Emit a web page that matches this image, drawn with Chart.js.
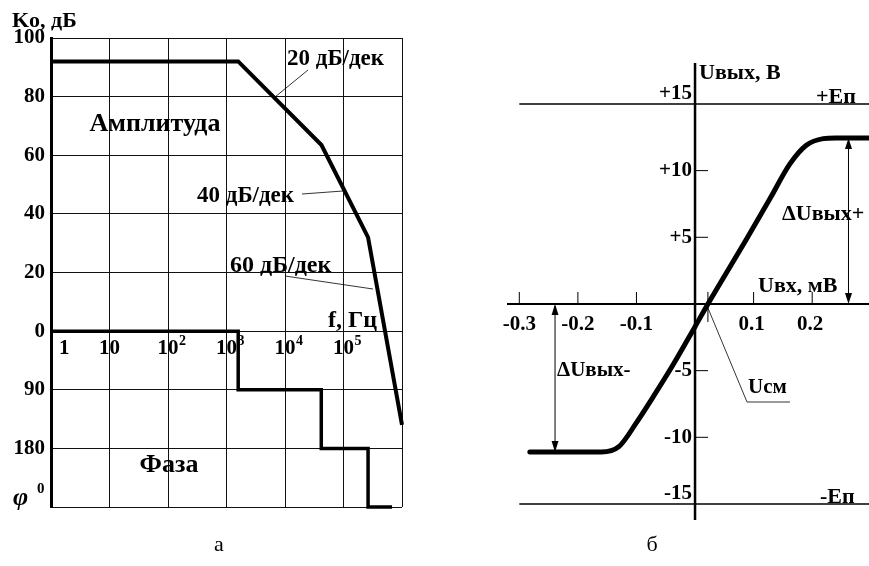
<!DOCTYPE html>
<html lang="ru">
<head>
<meta charset="UTF-8">
<title>Характеристики операционного усилителя</title>
<style>
  body { margin: 0; background: #fff; width: 869px; height: 566px; position: relative; overflow: hidden; }
  #freqWrap { position: absolute; left: 0; top: 0; width: 460px; height: 566px; }
  #transWrap { position: absolute; left: 460px; top: 0; width: 409px; height: 566px; }
</style>
</head>
<body>
<div id="freqWrap"><canvas id="freqChart"></canvas></div>
<div id="transWrap"><canvas id="transChart"></canvas></div>

<script src="https://cdn.jsdelivr.net/npm/chart.js"></script>
<script>
// --- а: амплитудная и фазовая характеристики ---
const decades = [1, 10, 100, 1000, 10000, 100000, 1000000];
const decadeBase = ['1', '10', '10', '10', '10', '10'];
const decadePow = ['', '', '2', '3', '4', '5'];
const gainFreq = [1, 1585, 42000, 263000, 1000000];
const gainDb = [92, 92, 63.5, 32, -32];
const phaseFreq = [1, 1585, 1585, 41700, 41700, 263000, 263000, 676000];
const phaseDeg = [0, 0, 90, 90, 180, 180, 270, 270];
const dbTicks = [100, 80, 60, 40, 20, 0];
const phaseTicks = [90, 180, 270];
const DEG_PER_UNIT = 4.5; // 20 делений оси = 90 градусов

// --- б: передаточная характеристика ---
const inputMv = [-0.282, -0.16, -0.13, -0.1, -0.072, -0.038, 0, 0.022, 0.089, 0.128, 0.162, 0.19, 0.219, 0.24, 0.297];
const outputV = [-11.1, -11.1, -10.7, -8.9, -7.0, -4.6, -1.7, 0, 4.95, 7.9, 10.5, 11.9, 12.4, 12.45, 12.45];
const railV = [15, -15];
const railLabels = ['+Eп', '-Eп'];
const mvTicks = [-0.3, -0.2, -0.1, 0.1, 0.2];
const vTicks = [15, 10, 5, -5, -10, -15];
const offsetMv = 0.022;
const swingArrowMv = [0.262, -0.239];

const SERIF = '"Liberation Serif", "Times New Roman", serif';
const bold = px => 'bold ' + px + 'px ' + SERIF;

function txt(ctx, s, x, y, align, font) {
  ctx.font = font;
  ctx.textAlign = align || 'left';
  ctx.textBaseline = 'middle';
  ctx.fillStyle = '#000';
  ctx.fillText(s, x, y);
}
function seg(ctx, x1, y1, x2, y2, w) {
  ctx.beginPath();
  ctx.lineWidth = w;
  ctx.strokeStyle = '#000';
  ctx.moveTo(x1, y1);
  ctx.lineTo(x2, y2);
  ctx.stroke();
}
function arrowHead(ctx, x, y, dir) {
  ctx.beginPath();
  ctx.fillStyle = '#000';
  ctx.moveTo(x, y);
  ctx.lineTo(x - 3.5, y - dir * 11);
  ctx.lineTo(x + 3.5, y - dir * 11);
  ctx.closePath();
  ctx.fill();
}

const freqLabels = {
  id: 'freqLabels',
  afterDraw(chart) {
    const ctx = chart.ctx;
    const xs = chart.scales.x, ys = chart.scales.y;
    const y0 = ys.getPixelForValue(0);
    ctx.save();
    // подписи частот под нулевой линией
    decadeBase.forEach((b, i) => {
      const gx = xs.getPixelForValue(decades[i]);
      if (i === 0) {
        txt(ctx, b, gx + 8, y0 + 17, 'left', bold(21));
        return;
      }
      txt(ctx, b, gx, y0 + 17, 'center', bold(21));
      if (decadePow[i]) txt(ctx, decadePow[i], gx + 11, y0 + 10, 'left', bold(14));
    });
    txt(ctx, 'Ko, дБ', 12, 21, 'left', bold(22));
    txt(ctx, 'Амплитуда', 155, 124, 'center', bold(26));
    txt(ctx, '20 дБ/дек', 287, 59, 'left', bold(23));
    txt(ctx, '40 дБ/дек', 197, 196, 'left', bold(23));
    txt(ctx, '60 дБ/дек', 230, 266, 'left', bold(24));
    txt(ctx, 'f, Гц', 328, 321, 'left', bold(24));
    txt(ctx, 'Фаза', 169, 465, 'center', bold(26));
    txt(ctx, 'φ', 13, 498, 'left', 'italic bold 26px ' + SERIF);
    txt(ctx, '0', 37, 489, 'left', bold(15));
    txt(ctx, 'а', 219, 545, 'center', '22px ' + SERIF);
    // выноски к наклонам
    seg(ctx, 275, 97, 308, 70, 0.8);
    seg(ctx, 302, 194, 343, 191, 0.8);
    seg(ctx, 285, 276, 373, 289, 0.8);
    ctx.restore();
  }
};

new Chart(document.getElementById('freqChart'), {
  type: 'line',
  data: {
    datasets: [
      {
        data: gainFreq.map((f, i) => ({ x: f, y: gainDb[i] })),
        borderColor: '#000', borderWidth: 4, pointRadius: 0, tension: 0, clip: 6
      },
      {
        data: phaseFreq.map((f, i) => ({ x: f, y: -phaseDeg[i] / DEG_PER_UNIT })),
        borderColor: '#000', borderWidth: 3.5, pointRadius: 0, tension: 0, clip: false
      }
    ]
  },
  options: {
    responsive: true,
    maintainAspectRatio: false,
    animation: false,
    layout: { padding: { left: 0, right: 58, top: 38, bottom: 59 } },
    plugins: { legend: { display: false }, tooltip: { enabled: false } },
    scales: {
      x: {
        type: 'logarithmic', min: 1, max: 1000000,
        afterBuildTicks: s => { s.ticks = decades.map(v => ({ value: v })); },
        ticks: { display: false },
        grid: { color: '#111', lineWidth: 1, drawTicks: false },
        border: { display: false }
      },
      y: {
        min: -60, max: 100,
        afterBuildTicks: s => {
          s.ticks = dbTicks.map(v => ({ value: v }))
            .concat(phaseTicks.map(d => ({ value: -d / DEG_PER_UNIT })));
        },
        afterFit: s => { s.width = 51; },
        ticks: {
          color: '#000', padding: 6,
          font: { family: SERIF, size: 21, weight: 'bold' },
          callback: v => v >= 0 ? String(v) : (v > -60 ? String(-v * DEG_PER_UNIT) : '')
        },
        grid: { color: '#111', lineWidth: 1, drawTicks: false },
        border: { display: true, color: '#000', width: 3 }
      }
    }
  },
  plugins: [freqLabels]
});

const transAxes = {
  id: 'transAxes',
  beforeDatasetsDraw(chart) {
    const ctx = chart.ctx, a = chart.chartArea;
    const xs = chart.scales.x, ys = chart.scales.y;
    const x0 = xs.getPixelForValue(0), y0 = ys.getPixelForValue(0);
    ctx.save();
    seg(ctx, x0, a.top, x0, a.bottom, 2.5);
    seg(ctx, a.left, y0, a.right, y0, 2);
    mvTicks.forEach(v => {
      const px = xs.getPixelForValue(v);
      seg(ctx, px, y0 - 12, px, y0, 1);
    });
    vTicks.filter(v => Math.abs(v) < 15).forEach(v => {
      const py = ys.getPixelForValue(v);
      seg(ctx, x0, py, x0 + 13, py, 1);
    });
    const xo = xs.getPixelForValue(offsetMv);
    seg(ctx, xo, y0 - 12, xo, y0 + 18, 1);
    ctx.restore();
  },
  afterDraw(chart) {
    const ctx = chart.ctx;
    const xs = chart.scales.x, ys = chart.scales.y;
    const x0 = xs.getPixelForValue(0), y0 = ys.getPixelForValue(0);
    const L = -460; // сдвиг холста относительно страницы
    ctx.save();
    txt(ctx, 'Uвых, В', x0 + 4, 73, 'left', bold(22));
    vTicks.forEach(v => {
      const py = ys.getPixelForValue(v) + (Math.abs(v) === 15 ? -10 : 0);
      txt(ctx, (v > 0 ? '+' : '-') + Math.abs(v), x0 - 3, py, 'right', bold(21));
    });
    railV.forEach((v, i) => {
      txt(ctx, railLabels[i], (i ? 820 : 816) + L, ys.getPixelForValue(v) - 7, 'left', bold(22));
    });
    mvTicks.forEach(v => {
      txt(ctx, String(v), xs.getPixelForValue(v) + (v < 0 ? 0 : -2), y0 + 21, 'center', bold(21));
    });
    txt(ctx, 'Uвх, мВ', 758 + L, 286, 'left', bold(22));
    // размахи выходного напряжения
    const vMax = Math.max(...outputV), vMin = Math.min(...outputV);
    const xp = xs.getPixelForValue(swingArrowMv[0]);
    const yTop = ys.getPixelForValue(vMax);
    seg(ctx, xp, yTop + 2, xp, y0 - 2, 1);
    arrowHead(ctx, xp, yTop, -1);
    arrowHead(ctx, xp, y0, 1);
    const xn = xs.getPixelForValue(swingArrowMv[1]);
    const yBot = ys.getPixelForValue(vMin);
    seg(ctx, xn, y0 + 2, xn, yBot - 2, 1);
    arrowHead(ctx, xn, y0, -1);
    arrowHead(ctx, xn, yBot, 1);
    txt(ctx, 'ΔUвых+', 782 + L, 214, 'left', bold(22));
    txt(ctx, 'ΔUвых-', 557 + L, 371, 'left', bold(21));
    // смещение нуля
    const xo = xs.getPixelForValue(offsetMv);
    seg(ctx, xo, y0 + 4, 747 + L, 402, 0.8);
    seg(ctx, 747 + L, 402, 790 + L, 402, 0.8);
    txt(ctx, 'Uсм', 748 + L, 388, 'left', bold(21));
    txt(ctx, 'б', 652 + L, 545, 'center', '22px ' + SERIF);
    ctx.restore();
  }
};

new Chart(document.getElementById('transChart'), {
  type: 'line',
  data: {
    datasets: [
      {
        data: [{ x: -0.3, y: railV[0] }, { x: 0.297, y: railV[0] }],
        borderColor: '#000', borderWidth: 1.5, pointRadius: 0
      },
      {
        data: [{ x: -0.3, y: railV[1] }, { x: 0.297, y: railV[1] }],
        borderColor: '#000', borderWidth: 1.5, pointRadius: 0
      },
      {
        data: inputMv.map((x, i) => ({ x, y: outputV[i] })),
        borderColor: '#000', borderWidth: 5, pointRadius: 0,
        cubicInterpolationMode: 'monotone', borderCapStyle: 'round', clip: false
      }
    ]
  },
  options: {
    responsive: true,
    maintainAspectRatio: false,
    animation: false,
    layout: { padding: { left: 47, right: 0, top: 63, bottom: 46 } },
    plugins: { legend: { display: false }, tooltip: { enabled: false } },
    scales: {
      x: { type: 'linear', display: false, min: -0.321, max: 0.297 },
      y: { type: 'linear', display: false, min: -16.2, max: 18.07 }
    }
  },
  plugins: [transAxes]
});
</script>
</body>
</html>
